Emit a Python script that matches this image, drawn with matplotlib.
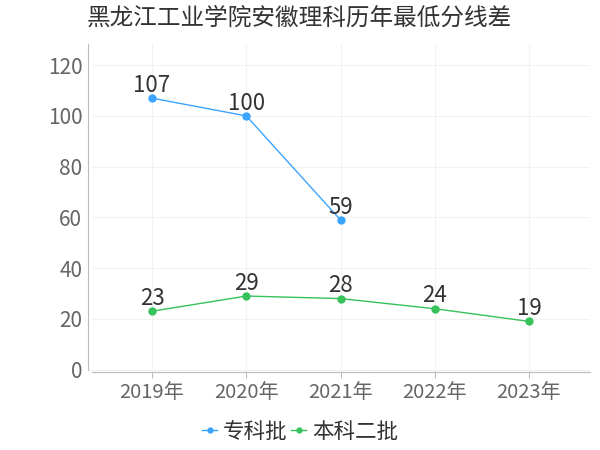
import matplotlib
matplotlib.use("Agg")
import matplotlib.pyplot as plt

plt.rcParams['font.family'] = ['Noto Sans CJK SC', 'DejaVu Sans']

title = "黑龙江工业学院安徽理科历年最低分线差"
years = ["2019年", "2020年", "2021年", "2022年", "2023年"]
s1_name = "专科批"
s1_vals = [107, 100, 59]
s2_name = "本科二批"
s2_vals = [23, 29, 28, 24, 19]
yticks = [0, 20, 40, 60, 80, 100, 120]

c1 = "#3ba4ff"
c2 = "#36c25a"

fig = plt.figure(figsize=(6, 4.5), dpi=100)
ax = fig.add_axes([0.1533, 0.173, 0.83, 0.729])

for s in ['top', 'right']:
    ax.spines[s].set_visible(False)
ax.spines['left'].set_position(('outward', 3))
ax.spines['left'].set_color('#bbbbbb')
ax.spines['bottom'].set_color('#bbbbbb')

x1 = list(range(len(s1_vals)))
x2 = list(range(len(s2_vals)))
ax.plot(x1, s1_vals, color=c1, lw=1, marker='o', ms=5, label=s1_name, zorder=3)
ax.plot(x2, s2_vals, color=c2, lw=1, marker='o', ms=5, label=s2_name, zorder=3)

for x, v in zip(x1, s1_vals):
    ax.annotate(str(v), (x, v), xytext=(0, 1), textcoords='offset points',
                ha='center', va='bottom', fontsize=16, color='#333333')
for x, v in zip(x2, s2_vals):
    ax.annotate(str(v), (x, v), xytext=(0, 1), textcoords='offset points',
                ha='center', va='bottom', fontsize=16, color='#333333')

ax.set_xlim(-0.637, len(years) - 1 + 0.647)
ax.set_ylim(-1, 128.3)
ax.spines['left'].set_bounds(0, 128.3)
ax.set_xticks(range(len(years)))
ax.set_xticklabels(years, fontsize=14.5, color='#666666')
ax.set_yticks(yticks)
ax.set_yticklabels([str(t) for t in yticks], fontsize=15, color='#666666')
ax.grid(True, color='#f2f2f2', lw=0.8, zorder=0)
ax.tick_params(axis='x', length=4, color='#bbbbbb', pad=3)
ax.tick_params(axis='y', length=0, pad=4)

fig.text(0.498, 0.96, title, ha='center', va='center', fontsize=17, color='#333333')
fig.legend(loc='center', bbox_to_anchor=(0.5, 0.04), ncol=2, frameon=False,
           fontsize=15.5, handlelength=0.7, handletextpad=0.25, columnspacing=0.2,
           labelcolor='#333333', markerscale=0.7, borderpad=0)

fig.savefig("out.png", dpi=100)
